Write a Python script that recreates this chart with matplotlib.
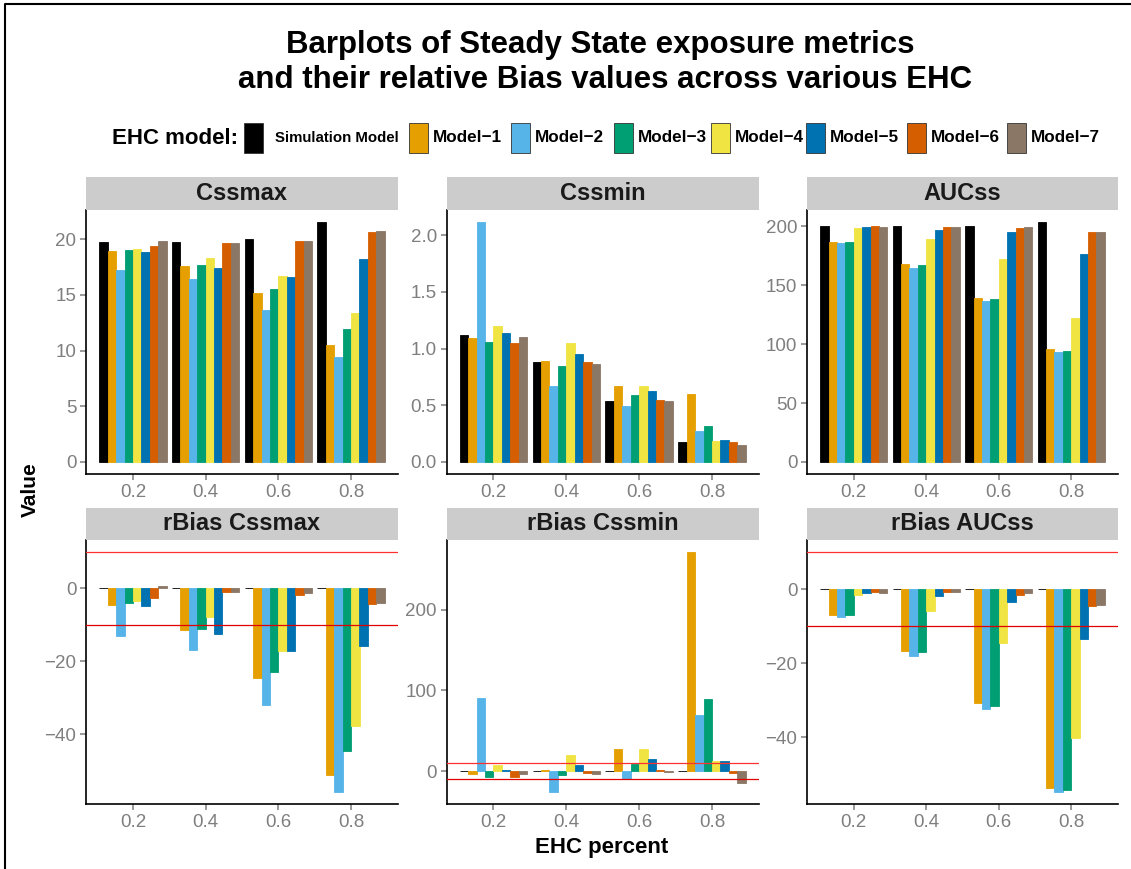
import matplotlib
matplotlib.use("Agg")
import matplotlib.pyplot as plt
from matplotlib.patches import Rectangle
from matplotlib.lines import Line2D

plt.rcParams["font.family"] = ["Liberation Sans", "DejaVu Sans"]

# ---------------------------------------------------------------- data
ehc = [0.2, 0.4, 0.6, 0.8]
models = ["Simulation Model", "Model\u22121", "Model\u22122", "Model\u22123",
          "Model\u22124", "Model\u22125", "Model\u22126", "Model\u22127"]
colors = ["#000000", "#E69F00", "#56B4E9", "#009E73",
          "#F0E442", "#0072B2", "#D55E00", "#8B7765"]

# rows: models (Simulation, Model-1 ... Model-7); columns: EHC 0.2, 0.4, 0.6, 0.8
cssmax = [
    [19.76, 19.76, 20.03, 21.54],
    [18.90, 17.58, 15.21, 10.46],
    [17.22, 16.45, 13.62, 9.39],
    [19.00, 17.67, 15.51, 11.96],
    [19.08, 18.29, 16.69, 13.38],
    [18.82, 17.40, 16.63, 18.20],
    [19.35, 19.70, 19.79, 20.68],
    [19.85, 19.70, 19.85, 20.74],
]
cssmin = [
    [1.116, 0.881, 0.535, 0.172],
    [1.090, 0.890, 0.674, 0.596],
    [2.116, 0.666, 0.491, 0.276],
    [1.055, 0.849, 0.587, 0.314],
    [1.195, 1.047, 0.674, 0.189],
    [1.140, 0.953, 0.622, 0.192],
    [1.047, 0.881, 0.544, 0.174],
    [1.099, 0.866, 0.535, 0.148],
]
aucss = [
    [200.3, 200.3, 200.3, 203.4],
    [186.3, 167.6, 138.8, 95.8],
    [185.5, 164.5, 136.3, 93.3],
    [186.3, 166.8, 138.0, 94.1],
    [198.0, 188.8, 172.1, 122.3],
    [198.9, 196.9, 194.7, 176.3],
    [199.7, 199.4, 198.0, 195.3],
    [198.9, 199.4, 198.9, 195.3],
]
rbias_cssmax = [
    [0.0, 0.0, 0.0, 0.0],
    [-4.6, -11.35, -24.5, -51.3],
    [-12.97, -17.0, -32.0, -55.9],
    [-4.05, -11.1, -22.9, -44.6],
    [-3.5, -7.9, -17.1, -37.9],
    [-4.95, -12.4, -17.3, -15.7],
    [-2.5, -0.9, -1.7, -4.3],
    [0.6, -0.9, -1.2, -3.9],
]
rbias_cssmin = [
    [0.0, 0.0, 0.0, 0.0],
    [-3.7, 1.6, 27.8, 271.4],
    [91.0, -25.7, -10.2, 69.8],
    [-6.9, -4.9, 9.4, 89.4],
    [7.8, 20.0, 27.8, 12.7],
    [2.0, 7.8, 15.1, 12.7],
    [-6.9, -2.0, 2.0, -1.6],
    [-3.7, -2.9, -0.5, -14.7],
]
rbias_aucss = [
    [0.0, 0.0, 0.0, 0.0],
    [-7.1, -16.7, -30.9, -53.7],
    [-7.6, -18.2, -32.3, -54.8],
    [-7.1, -16.9, -31.5, -54.2],
    [-1.6, -6.0, -14.6, -40.2],
    [-1.1, -1.9, -3.5, -13.5],
    [-0.8, -0.8, -1.6, -4.5],
    [-1.1, -0.8, -1.1, -4.2],
]

panel_titles = ["Cssmax", "Cssmin", "AUCss",
                "rBias Cssmax", "rBias Cssmin", "rBias AUCss"]
panel_data = [cssmax, cssmin, aucss, rbias_cssmax, rbias_cssmin, rbias_aucss]
panel_yticks = [[0, 5, 10, 15, 20], [0.0, 0.5, 1.0, 1.5, 2.0],
                [0, 50, 100, 150, 200], [0, -20, -40], [0, 100, 200],
                [0, -20, -40]]
panel_ylabels = [["0", "5", "10", "15", "20"],
                 ["0.0", "0.5", "1.0", "1.5", "2.0"],
                 ["0", "50", "100", "150", "200"],
                 ["0", "\u221220", "\u221240"],
                 ["0", "100", "200"],
                 ["0", "\u221220", "\u221240"]]
bias_limit = 10

# ---------------------------------------------------------------- layout
W, H = 1131, 869
fig = plt.figure(figsize=(W / 100, H / 100), dpi=100)
fig.patch.set_facecolor("white")


def fx(px):
    return px / W


def fy(py):
    return 1 - py / H


col_x = [(86, 398), (446.5, 759), (807, 1118)]
row_y = [((177, 210), (210, 474)), ((508, 540), (540, 804))]

tick_grey = "#7F7F7F"
group_w = 0.185
n = len(models)
bw = group_w / n

for k, (title, data) in enumerate(zip(panel_titles, panel_data)):
    r, c = divmod(k, 3)
    x0, x1 = col_x[c]
    (s0, s1), (a0, a1) = row_y[r]
    ax = fig.add_axes([fx(x0), fy(a1), fx(x1) - fx(x0), fy(a0) - fy(a1)])

    for i in range(n):
        xs = [e + (i - (n - 1) / 2) * bw for e in ehc]
        ax.bar(xs, data[i], width=bw, color=colors[i], edgecolor=colors[i],
               linewidth=0.6, zorder=2)

    flat = [v for row in data for v in row]
    if r == 0:
        lo, hi = min(0, min(flat)), max(flat)
    else:
        lo, hi = min(min(flat), -bias_limit), max(max(flat), bias_limit)
        ax.axhline(bias_limit, color="#FF3030", lw=0.9, zorder=3)
        ax.axhline(-bias_limit, color="#E00000", lw=0.9, zorder=3)
    pad = 0.05 * (hi - lo)
    ax.set_ylim(lo - pad, hi + pad)
    ax.set_xlim(0.071, 0.929)

    ax.set_xticks(ehc)
    ax.set_xticklabels([f"{e:.1f}" for e in ehc])
    ax.set_yticks(panel_yticks[k])
    ax.set_yticklabels(panel_ylabels[k])
    ax.tick_params(axis="both", colors=tick_grey, labelcolor=tick_grey,
                   labelsize=13.5, length=4, width=1.1, pad=3)
    for side in ("top", "right"):
        ax.spines[side].set_visible(False)
    for side in ("left", "bottom"):
        ax.spines[side].set_linewidth(1.2)
        ax.spines[side].set_color("black")

    # facet strip
    fig.patches.append(Rectangle((fx(x0), fy(s1)), fx(x1) - fx(x0),
                                 fy(s0) - fy(s1), transform=fig.transFigure,
                                 facecolor="#CCCCCC", edgecolor="none"))
    fig.text(fx((x0 + x1) / 2), fy((s0 + s1) / 2), title, ha="center",
             va="center", fontsize=17, fontweight="bold", color="#1A1A1A")

# ---------------------------------------------------------------- titles
fig.text(fx(600), fy(45), "Barplots of Steady State exposure metrics",
         ha="center", va="center", fontsize=22.5, fontweight="bold")
fig.text(fx(605), fy(80), "and their relative Bias values across various EHC",
         ha="center", va="center", fontsize=22.5, fontweight="bold")
fig.text(fx(602), fy(848), "EHC percent", ha="center", va="center",
         fontsize=16, fontweight="bold")
fig.text(fx(30), fy(490), "Value", ha="center", va="center", rotation=90,
         fontsize=15, fontweight="bold")

# ---------------------------------------------------------------- legend
ly = 138
fig.text(fx(112), fy(ly), "EHC model:", ha="left", va="center",
         fontsize=16, fontweight="bold")
key_x = [244, 409, 511, 614, 711, 806, 907, 1007]
label_dx = [31, 24, 24, 24, 24, 24, 24, 24]
label_sizes = [10.8, 12.3, 12.3, 12.3, 12.3, 12.3, 12.3, 12.3]
for xk, dx, lab, col, fs in zip(key_x, label_dx, models, colors, label_sizes):
    fig.patches.append(Rectangle((fx(xk), fy(ly + 15)), fx(19), 30 / H,
                                 transform=fig.transFigure, facecolor=col,
                                 edgecolor="#333333", linewidth=0.6))
    fig.text(fx(xk + dx), fy(ly), lab, ha="left", va="center",
             fontsize=fs, fontweight="bold")

# outer frame
fig.lines.append(Line2D([fx(5), fx(5), 1], [0, fy(4), fy(4)],
                        transform=fig.transFigure, color="black", lw=1.5))

fig.savefig("out.png", dpi=100)
